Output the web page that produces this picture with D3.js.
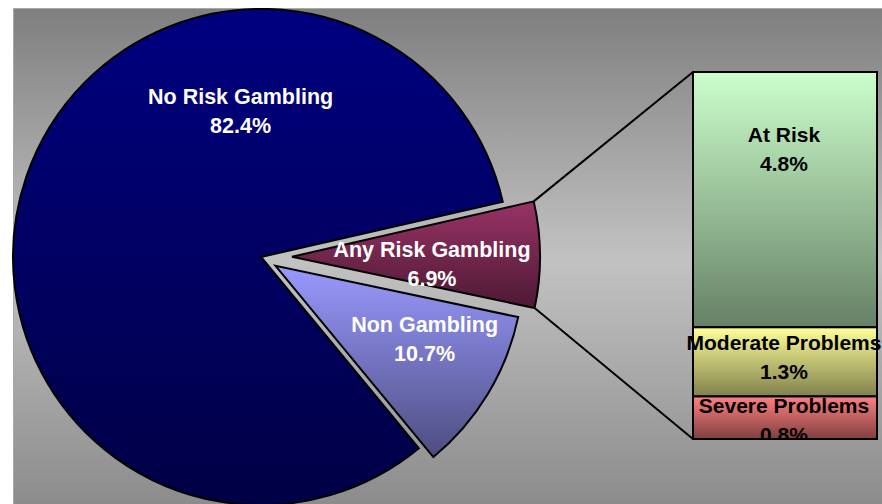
<!DOCTYPE html>
<html lang="en">
<head>
<meta charset="UTF-8">
<title>Gambling risk</title>
<script src="https://d3js.org/d3.v7.min.js"></script>
<style>
  body { margin: 0; background: #fff; }
  svg { display: block; font-family: "Liberation Sans", Arial, sans-serif; }
  .lbl { font-size: 21.5px; font-weight: bold; text-anchor: middle; }
  .blbl { font-size: 21px; font-weight: bold; text-anchor: middle; }
</style>
</head>
<body>
<svg width="882" height="504"></svg>
<script>
// pie data
const pieLabels = ["Any Risk Gambling", "Non Gambling", "No Risk Gambling"];
const pieValues = [6.9, 10.7, 82.4];
// breakdown of "Any Risk Gambling" (bar of pie), top to bottom
const barLabels = ["At Risk", "Moderate Problems", "Severe Problems"];
const barValues = [4.8, 1.3, 0.8];

// colours: [top, bottom] of each gradient
const pieColors = [["#993366", "#4d1933"], ["#9999ff", "#4d4d80"], ["#000080", "#000045"]];
const barColors = [["#ccffcc", "#668066"], ["#ffff99", "#80804d"], ["#ff8080", "#804040"]];
const explode = [31, 17, 0];
const pieNudge = [[16, 1], [43, 2], [97, -113]];
const barLabelTop = [69.5, 23, 16.6];

const svg = d3.select("svg");
const W = 882, H = 504;
const defs = svg.append("defs");

function grad(id, c) {
  const g = defs.append("linearGradient").attr("id", id)
    .attr("x1", 0).attr("y1", 0).attr("x2", 0).attr("y2", 1);
  g.append("stop").attr("offset", "0%").attr("stop-color", c[0]);
  g.append("stop").attr("offset", "100%").attr("stop-color", c[1]);
}

// plot area background
const bg = defs.append("linearGradient").attr("id", "bg")
  .attr("x1", 0).attr("y1", 0).attr("x2", 0).attr("y2", 1);
bg.append("stop").attr("offset", "0%").attr("stop-color", "#7f7f7f");
bg.append("stop").attr("offset", "50%").attr("stop-color", "#c2c2c2");
bg.append("stop").attr("offset", "100%").attr("stop-color", "#8a8a8a");

svg.append("rect")
  .attr("x", 13.5).attr("y", 8.5).attr("width", W).attr("height", H)
  .attr("fill", "url(#bg)").attr("stroke", "#a8a8a8").attr("stroke-width", 1);

// pie
const cx = 261, cy = 257, r = 248;
const startDeg = 77.1;
const pie = d3.pie().sort(null)
  .startAngle(startDeg * Math.PI / 180)
  .endAngle(startDeg * Math.PI / 180 + 2 * Math.PI);
const arcs = pie(pieValues);
const arc = d3.arc().innerRadius(0).outerRadius(r);

pieColors.forEach((c, i) => grad("pg" + i, c));
barColors.forEach((c, i) => grad("bg" + i, c));

const gPie = svg.append("g").attr("transform", `translate(${cx},${cy})`);

function offset(d, i) {
  const a = (d.startAngle + d.endAngle) / 2 - Math.PI / 2;
  return [explode[i] * Math.cos(a), explode[i] * Math.sin(a)];
}

// draw navy first so the exploded slices sit on top
const order = [2, 0, 1];
order.forEach(i => {
  const d = arcs[i];
  const [ox, oy] = offset(d, i);
  gPie.append("path")
    .attr("transform", `translate(${ox},${oy})`)
    .attr("d", arc(d))
    .attr("fill", `url(#pg${i})`)
    .attr("stroke", "#000").attr("stroke-width", 2)
    .attr("stroke-linejoin", "miter");
});

// bar of pie
const yScale = d3.scaleLinear().domain([0, d3.sum(barValues)]).range([439, 72]);
const xScale = d3.scaleLinear().domain([0, 1]).range([693, 877]);

let acc = 0;
const segs = barValues.slice().reverse().map((v, k) => {
  const i = barValues.length - 1 - k;
  const s = { i, y0: acc, y1: acc + v };
  acc += v;
  return s;
}).reverse();

// connector lines from the Any Risk slice to the bar
const anyArc = arcs[0];
const [aox, aoy] = offset(anyArc, 0);
const edge = ang => [cx + aox + r * Math.cos(ang - Math.PI / 2), cy + aoy + r * Math.sin(ang - Math.PI / 2)];
const p1 = edge(anyArc.startAngle), p2 = edge(anyArc.endAngle);
svg.append("line")
  .attr("x1", p1[0]).attr("y1", p1[1])
  .attr("x2", xScale(0)).attr("y2", yScale(d3.sum(barValues)))
  .attr("stroke", "#000").attr("stroke-width", 2);
svg.append("line")
  .attr("x1", p2[0]).attr("y1", p2[1])
  .attr("x2", xScale(0)).attr("y2", yScale(0))
  .attr("stroke", "#000").attr("stroke-width", 2);

svg.selectAll(".seg")
  .data(segs)
  .enter().append("rect")
  .attr("class", "seg")
  .attr("x", xScale(0))
  .attr("y", d => yScale(d.y1))
  .attr("width", xScale(1) - xScale(0))
  .attr("height", d => yScale(d.y0) - yScale(d.y1))
  .attr("fill", d => `url(#bg${d.i})`)
  .attr("stroke", "#000").attr("stroke-width", 2);

// pie labels
arcs.forEach((d, i) => {
  const [ox, oy] = offset(d, i);
  const c = arc.centroid(d);
  const x = cx + ox + c[0] + pieNudge[i][0];
  const y = cy + oy + c[1] + pieNudge[i][1];
  const t = svg.append("text").attr("class", "lbl").attr("fill", "#fff");
  t.append("tspan").attr("x", x).attr("y", y).text(pieLabels[i]);
  t.append("tspan").attr("x", x).attr("y", y + 29).text(pieValues[i].toFixed(1) + "%");
});

// bar labels (clipped at the bar bottom)
defs.append("clipPath").attr("id", "barclip")
  .append("rect").attr("x", 0).attr("y", 0).attr("width", W).attr("height", yScale(0) + 1);
const gBarLbl = svg.append("g").attr("clip-path", "url(#barclip)");
segs.forEach(s => {
  const x = (xScale(0) + xScale(1)) / 2 - 1;
  const y = yScale(s.y1) + barLabelTop[s.i];
  const t = gBarLbl.append("text").attr("class", "blbl").attr("fill", "#000");
  t.append("tspan").attr("x", x).attr("y", y).text(barLabels[s.i]);
  t.append("tspan").attr("x", x).attr("y", y + 29).text(barValues[s.i].toFixed(1) + "%");
});
</script>
</body>
</html>
